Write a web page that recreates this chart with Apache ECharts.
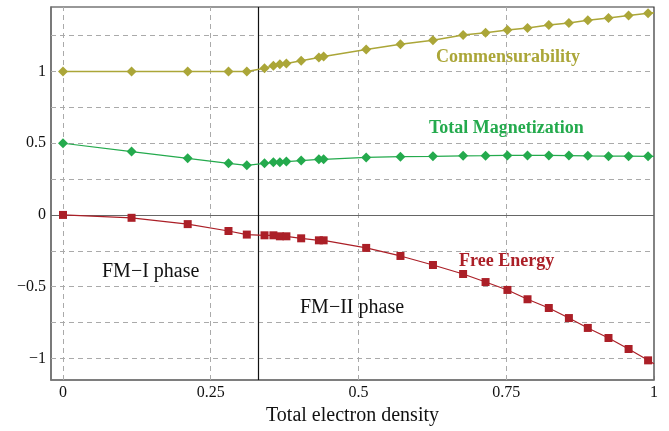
<!DOCTYPE html>
<html>
<head>
<meta charset="utf-8">
<script src="https://cdn.jsdelivr.net/npm/echarts@6/dist/echarts.min.js"></script>
<style>
  html, body { margin: 0; padding: 0; background: #fff; }
  #chart { width: 669px; height: 431px; }
</style>
</head>
<body>
<div id="chart"></div>
<script>
// Electron densities at which the three quantities were computed
const density = [0, 0.116, 0.211, 0.280, 0.311, 0.341, 0.356, 0.367, 0.378, 0.403, 0.433, 0.441,
  0.513, 0.571, 0.626, 0.677, 0.715, 0.752, 0.786, 0.822, 0.856, 0.888, 0.923, 0.957, 0.990, 1.0];

const commensurability = [1.0, 1.0, 1.0, 1.0, 1.0, 1.023, 1.040, 1.051, 1.056, 1.075, 1.098, 1.105,
  1.154, 1.190, 1.218, 1.255, 1.271, 1.290, 1.304, 1.325, 1.339, 1.358, 1.374, 1.391, 1.407, 1.41];

const magnetization = [0.5, 0.442, 0.395, 0.360, 0.346, 0.360, 0.367, 0.367, 0.372, 0.379, 0.388, 0.388,
  0.401, 0.406, 0.409, 0.412, 0.413, 0.415, 0.415, 0.415, 0.414, 0.412, 0.410, 0.410, 0.409, 0.409];

const freeEnergy = [0, -0.020, -0.064, -0.112, -0.137, -0.142, -0.142, -0.149, -0.149, -0.163, -0.177, -0.177,
  -0.230, -0.286, -0.349, -0.412, -0.468, -0.523, -0.588, -0.649, -0.719, -0.788, -0.858, -0.935, -1.014, -1.037];

// The last density is only a line end point, drawn without a marker
const markerless = [25];

const xTicks = [0, 0.25, 0.5, 0.75, 1];
const xTickLabels = ['0', '0.25', '0.5', '0.75', '1'];
const yTicks = [-1, -0.5, 0, 0.5, 1];
const yTickLabels = ['\u22121', '\u22120.5', '0', '0.5', '1'];
const xGrid = [0, 0.25, 0.5, 0.75];
const yGrid = [-1, -0.75, -0.5, -0.25, 0.25, 0.5, 0.75, 1, 1.25];
const phaseBoundary = 0.327;

const serif = '"Liberation Serif", "DejaVu Serif", serif';

function pairs(ys) {
  return density.map((x, i) => {
    const item = { value: [x, ys[i]] };
    if (markerless.includes(i)) item.symbol = 'none';
    return item;
  });
}

const chart = echarts.init(document.getElementById('chart'));

const option = {
  animation: false,
  grid: { left: 51, right: 15, top: 7, bottom: 51, show: true, borderColor: '#333', borderWidth: 1.2 },
  xAxis: {
    type: 'value', min: -0.0203, max: 1,
    axisLine: { show: true, onZero: false, lineStyle: { color: '#777', width: 1.5 } },
    axisTick: { show: true, inside: true, length: 4, customValues: xTicks, lineStyle: { color: '#777' } },
    axisLabel: {
      customValues: xTicks, margin: 5,
      formatter: v => xTickLabels[xTicks.indexOf(Math.round(v * 100) / 100)] ?? '',
      fontFamily: serif, fontSize: 16, color: '#111'
    },
    splitLine: { show: false },
    name: 'Total electron density', nameLocation: 'middle', nameGap: 19,
    nameTextStyle: { fontFamily: serif, fontSize: 20, color: '#111', verticalAlign: 'top' }
  },
  yAxis: {
    type: 'value', min: -1.151, max: 1.45,
    axisLine: { show: true, onZero: false, lineStyle: { color: '#777', width: 1.5 } },
    axisTick: { show: true, inside: true, length: 4, customValues: yTicks, lineStyle: { color: '#777' } },
    axisLabel: {
      customValues: yTicks, margin: 5,
      formatter: v => yTickLabels[yTicks.indexOf(Math.round(v * 100) / 100)] ?? '',
      fontFamily: serif, fontSize: 16, color: '#111'
    },
    splitLine: { show: false }
  },
  series: [
    {
      name: 'grid', type: 'line', data: [], silent: true,
      markLine: {
        silent: true, symbol: 'none', label: { show: false },
        lineStyle: { type: [5, 4], color: '#aaa', width: 1 },
        data: [
          ...xGrid.map(x => ({ xAxis: x })),
          ...yGrid.map(y => ({ yAxis: y })),
          { yAxis: 0, lineStyle: { type: 'solid', color: '#666', width: 1.2 } },
          { xAxis: phaseBoundary, lineStyle: { type: 'solid', color: '#111', width: 1.2 } }
        ]
      }
    },
    {
      name: 'Commensurability', type: 'line', data: pairs(commensurability),
      symbol: 'diamond', symbolSize: 10, z: 5,
      lineStyle: { color: '#aba638', width: 1.5 }, itemStyle: { color: '#aba638' }
    },
    {
      name: 'Total Magnetization', type: 'line', data: pairs(magnetization),
      symbol: 'diamond', symbolSize: 10, z: 5,
      lineStyle: { color: '#24aa4d', width: 1.2 }, itemStyle: { color: '#24aa4d' }
    },
    {
      name: 'Free Energy', type: 'line', data: pairs(freeEnergy),
      symbol: 'rect', symbolSize: 8, z: 5,
      lineStyle: { color: '#ab1f27', width: 1.2 }, itemStyle: { color: '#ab1f27' }
    }
  ],
  graphic: [
    { type: 'text', left: 436, top: 48, style: { text: 'Commensurability', font: 'bold 18px ' + serif, fill: '#aba638' } },
    { type: 'text', left: 429, top: 119, style: { text: 'Total Magnetization', font: 'bold 18px ' + serif, fill: '#24aa4d' } },
    { type: 'text', left: 459, top: 252, style: { text: 'Free Energy', font: 'bold 18px ' + serif, fill: '#ab1f27' } },
    { type: 'text', left: 102, top: 262, style: { text: 'FM\u2212I phase', font: '20px ' + serif, fill: '#111' } },
    { type: 'text', left: 300, top: 298, style: { text: 'FM\u2212II phase', font: '20px ' + serif, fill: '#111' } }
  ]
};

chart.setOption(option);
</script>
</body>
</html>
